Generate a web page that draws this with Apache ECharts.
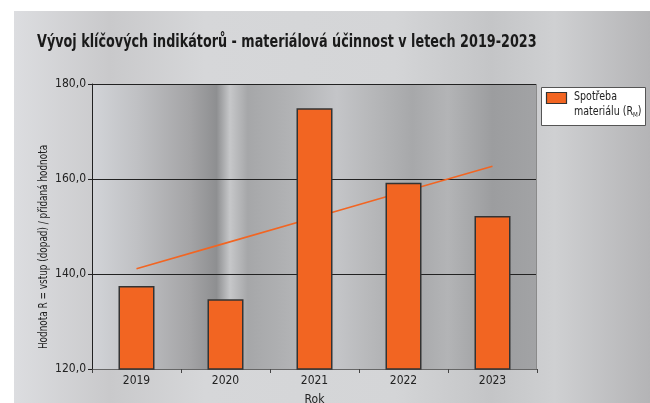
<!DOCTYPE html>
<html>
<head>
<meta charset="utf-8">
<script src="https://cdn.jsdelivr.net/npm/echarts@6/dist/echarts.min.js"></script>
<style>
  html, body { margin: 0; padding: 0; background: #fff; }
  #chart { width: 650px; height: 403px; }
</style>
</head>
<body>
<div id="chart"></div>
<script>
var years = ['2019', '2020', '2021', '2022', '2023'];
var spotreba = [137.5, 134.7, 174.9, 159.2, 152.2];
// trend line at each year
var trend = [141.1, 146.5, 151.9, 157.3, 162.7];

var fontFam = "'Liberation Sans Narrow', 'DejaVu Sans Condensed', sans-serif";
var orange = '#f26522';

const chartOption = () => {
    return {
        animation: false,
        textStyle: { fontFamily: fontFam },
        grid: { left: 92, right: 113, top: 84, bottom: 34, outerBoundsMode: 'none' },
        graphic: {
            elements: [
                {
                    type: 'rect', z: -20, silent: true,
                    shape: { x: 14, y: 11, width: 636, height: 392 },
                    style: {
                        fill: new echarts.graphic.LinearGradient(0, 0, 1, 0, [
                            { offset: 0, color: '#dcdde0' },
                            { offset: 0.15, color: '#c9c9cb' },
                            { offset: 0.3, color: '#d6d7d9' },
                            { offset: 0.6, color: '#d4d5d7' },
                            { offset: 0.75, color: '#c4c5c7' },
                            { offset: 0.85, color: '#cfd0d2' },
                            { offset: 1, color: '#b4b4b6' }
                        ])
                    }
                },
                {
                    type: 'rect', z: -19, silent: true,
                    shape: { x: 92, y: 84, width: 445, height: 285 },
                    style: {
                        fill: new echarts.graphic.LinearGradient(0, 0, 1, 0, [
                            { offset: 0, color: '#d2d4d8' },
                            { offset: 0.1, color: '#c0c1c4' },
                            { offset: 0.22, color: '#a4a4a6' },
                            { offset: 0.28, color: '#8e8f91' },
                            { offset: 0.31, color: '#c6c7c9' },
                            { offset: 0.35, color: '#a6a7a9' },
                            { offset: 0.45, color: '#b2b3b5' },
                            { offset: 0.55, color: '#c4c5c8' },
                            { offset: 0.62, color: '#b8b9bb' },
                            { offset: 0.72, color: '#a7a8aa' },
                            { offset: 0.8, color: '#b3b4b6' },
                            { offset: 0.9, color: '#9c9d9f' },
                            { offset: 1, color: '#a2a3a5' }
                        ])
                    }
                },
                {
                    type: 'line', z: 5, silent: true,
                    shape: { x1: 536.5, y1: 84, x2: 536.5, y2: 369 },
                    style: { stroke: '#8a8a8a', lineWidth: 1 }
                },
                // title, squeezed to the condensed width of the original
                {
                    type: 'text', z: 100, silent: true,
                    x: 37, y: 33, scaleX: 0.79,
                    style: {
                        text: 'Vývoj klíčových indikátorů - materiálová účinnost v letech 2019-2023',
                        font: 'bold 18px ' + fontFam,
                        fill: '#1a1a1a'
                    }
                },
                // y axis name
                {
                    type: 'text', z: 100, silent: true,
                    x: 37, y: 247, rotation: Math.PI / 2, scaleX: 0.76,
                    style: {
                        text: 'Hodnota R = vstup (dopad) / přidaná hodnota',
                        font: '13px ' + fontFam,
                        fill: '#222',
                        align: 'center'
                    }
                },
                // legend
                {
                    type: 'rect', z: 100, silent: true,
                    shape: { x: 541.5, y: 87.5, width: 104, height: 38 },
                    style: { fill: '#ffffff', stroke: '#555555', lineWidth: 1 }
                },
                {
                    type: 'rect', z: 101, silent: true,
                    shape: { x: 546.5, y: 92.5, width: 20, height: 11 },
                    style: { fill: orange, stroke: '#333333', lineWidth: 1.2 }
                },
                {
                    type: 'text', z: 101, silent: true,
                    x: 574, y: 89, scaleX: 0.88,
                    style: {
                        text: '{a|Spotřeba}\n{a|materiálu (R}{s|M}{a|)}',
                        rich: {
                            a: { fontFamily: fontFam, fontSize: 12, lineHeight: 15, fill: '#222' },
                            s: { fontFamily: fontFam, fontSize: 7, lineHeight: 15, fill: '#222', padding: [8, 0, 0, 0] }
                        }
                    }
                }
            ]
        },
        xAxis: {
            type: 'category',
            data: years,
            name: 'Rok',
            nameLocation: 'middle',
            nameGap: 25,
            nameTextStyle: { fontFamily: fontFam, fontSize: 12, color: '#222' },
            axisLine: { lineStyle: { color: '#666', width: 1 } },
            axisTick: { show: true, length: 4, lineStyle: { color: '#444' } },
            axisLabel: { fontFamily: fontFam, fontSize: 12, color: '#222', margin: 6 }
        },
        yAxis: {
            type: 'value',
            min: 120,
            max: 180,
            interval: 20,
            axisLine: { show: true, lineStyle: { color: '#222', width: 1 } },
            axisTick: { show: true, length: 4, lineStyle: { color: '#222' } },
            axisLabel: {
                fontFamily: fontFam, fontSize: 12, color: '#222', margin: 6,
                formatter: v => v.toFixed(1).replace('.', ',')
            },
            splitLine: { show: true, lineStyle: { color: '#222', width: 1 } }
        },
        series: [
            {
                name: 'Trend',
                type: 'line',
                data: trend,
                z: 1,
                symbol: 'none',
                silent: true,
                lineStyle: { color: orange, width: 1.6 }
            },
            {
                name: 'Spotřeba materiálu (RM)',
                type: 'bar',
                data: spotreba,
                z: 3,
                barWidth: 36,
                itemStyle: { color: orange, borderColor: '#333333', borderWidth: 1.5 }
            }
        ]
    };
};

const initChart = () => {
    const chart1 = echarts.init(document.getElementById('chart'));
    chart1.setOption(chartOption());
};

window.addEventListener('load', () => {
    initChart();
});
</script>
</body>
</html>
